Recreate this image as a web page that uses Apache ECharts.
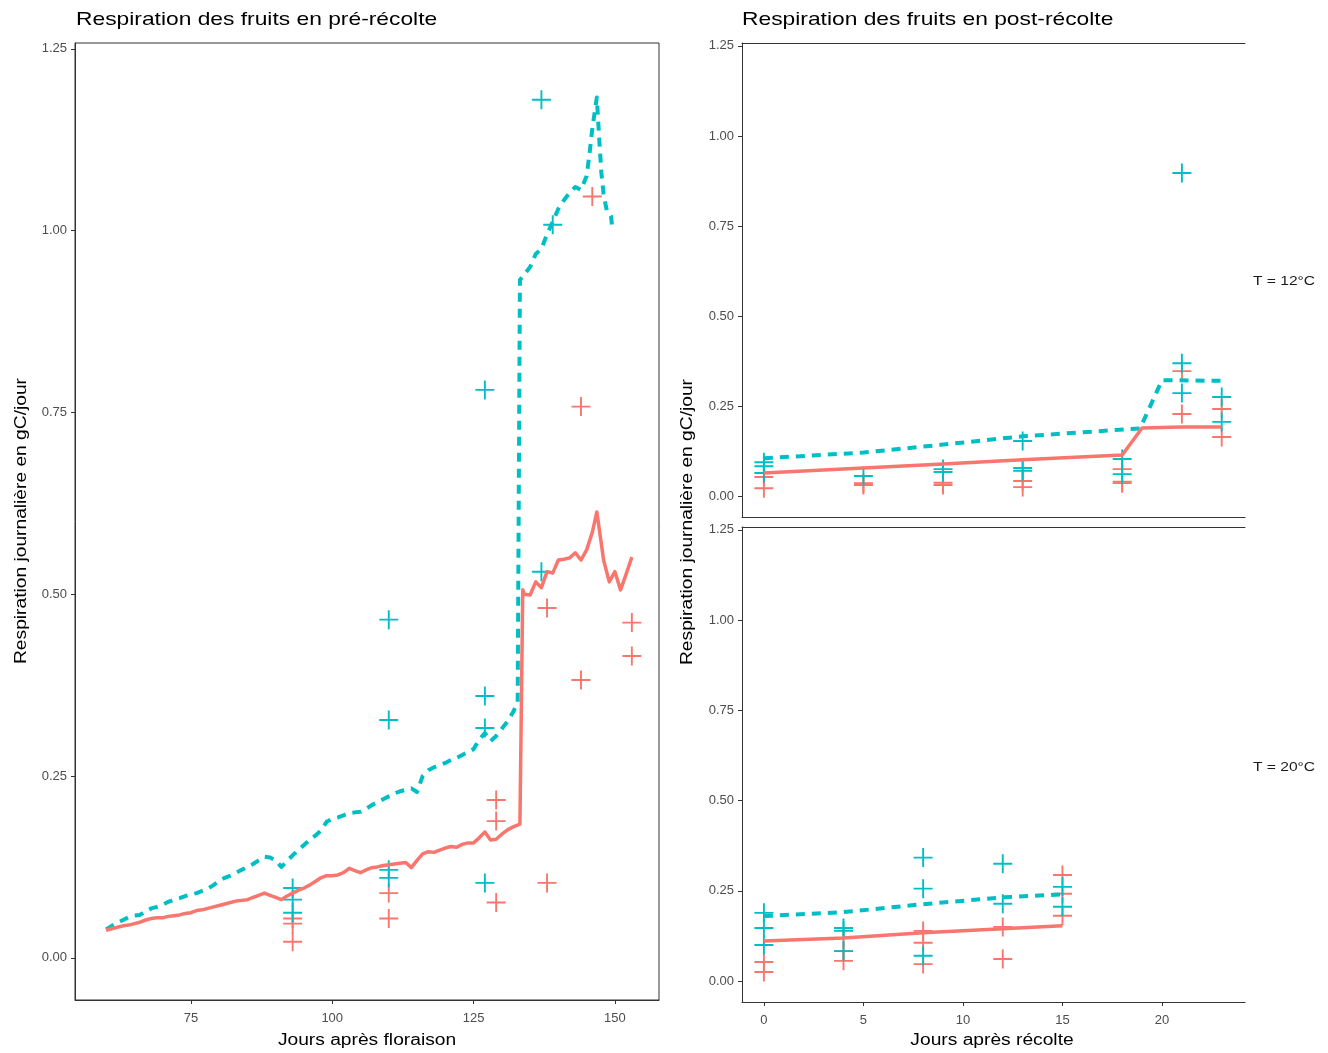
<!DOCTYPE html>
<html>
<head>
<meta charset="utf-8">
<script src="https://cdn.jsdelivr.net/npm/echarts@6/dist/echarts.min.js"></script>
<style>
html,body{margin:0;padding:0;background:#fff;}
#c{width:1328px;height:1053px;}
</style>
</head>
<body>
<div id="c"></div>
<script>
// ---------- DATA ----------
const titlePre = "Respiration des fruits en pré-récolte";
const titlePost = "Respiration des fruits en post-récolte";
const yName = "Respiration journalière en gC/jour";
const xNamePre = "Jours après floraison";
const xNamePost = "Jours après récolte";
const stripLabels = ["T = 12°C", "T = 20°C"];

const yTicks = [0, 0.25, 0.5, 0.75, 1.0, 1.25];
const xTicksPre = [75, 100, 125, 150];
const xTicksPost = [0, 5, 10, 15, 20];

// Pre-harvest simulated lines [day, gC/day]
const preLineRed = [[60,0.038],[61,0.040],[62,0.042],[63,0.044],[64,0.045],[65,0.047],[66,0.049],[67,0.052],[68,0.054],[69,0.055],[70,0.055],[71,0.057],[72,0.058],[73,0.059],[74,0.061],[75,0.062],[76,0.065],[77,0.066],[78,0.068],[79,0.070],[80,0.072],[81,0.074],[82,0.076],[83,0.078],[84,0.079],[85,0.080],[86,0.083],[87,0.086],[88,0.089],[89,0.086],[90,0.083],[91,0.080],[92,0.085],[93,0.089],[94,0.093],[95,0.096],[96,0.100],[97,0.105],[98,0.110],[99,0.113],[100,0.113],[101,0.114],[102,0.117],[103,0.123],[104,0.120],[105,0.117],[106,0.121],[107,0.124],[108,0.125],[109,0.127],[110,0.128],[111,0.129],[112,0.130],[113,0.131],[114,0.124],[115,0.134],[116,0.143],[117,0.146],[118,0.145],[119,0.148],[120,0.151],[121,0.153],[122,0.152],[123,0.156],[124,0.158],[125,0.158],[126,0.165],[127,0.173],[128,0.162],[129,0.163],[130,0.170],[131,0.176],[132,0.180],[133.2,0.184],[133.7,0.506],[134,0.500],[135,0.499],[136,0.517],[137,0.509],[138,0.531],[139,0.529],[140,0.547],[141,0.548],[142,0.550],[143,0.557],[144,0.547],[145,0.561],[146,0.585],[146.8,0.613],[147.5,0.575],[148,0.547],[149,0.517],[150,0.531],[151,0.506],[152,0.528],[153,0.551]];
const preLineCyan = [[60,0.039],[61,0.044],[62,0.048],[63,0.052],[64,0.056],[65,0.058],[66,0.059],[67,0.064],[68,0.068],[69,0.070],[70,0.073],[71,0.077],[72,0.080],[73,0.082],[74,0.085],[75,0.087],[76,0.089],[77,0.092],[78,0.095],[79,0.100],[80,0.106],[81,0.110],[82,0.113],[83,0.117],[84,0.121],[85,0.125],[86,0.129],[87,0.134],[88,0.139],[89,0.138],[90,0.134],[91,0.125],[92,0.133],[93,0.141],[94,0.148],[95,0.155],[96,0.162],[97,0.168],[98,0.175],[99,0.187],[100,0.191],[101,0.193],[102,0.196],[103,0.199],[104,0.200],[105,0.201],[106,0.205],[107,0.210],[108,0.214],[109,0.218],[110,0.222],[111,0.226],[112,0.229],[113,0.231],[114,0.233],[115,0.228],[116,0.250],[117,0.258],[118,0.262],[119,0.265],[120,0.268],[121,0.272],[122,0.275],[123,0.279],[124,0.283],[125,0.287],[126,0.300],[127,0.309],[128,0.298],[129,0.305],[130,0.315],[131,0.325],[132,0.338],[132.8,0.351],[133.2,0.932],[134,0.940],[135,0.950],[136,0.968],[137,0.975],[138,0.995],[139,1.012],[140,1.030],[141,1.042],[142,1.052],[143,1.060],[144,1.056],[145,1.075],[145.5,1.105],[146,1.140],[146.8,1.183],[147.2,1.130],[147.6,1.080],[148,1.050],[148.6,1.026],[149.3,1.020],[149.6,1.000]];

// Pre-harvest measurements
const prePtsRed = [[93,0.054],[93,0.047],[93,0.022],[110,0.089],[110,0.054],[129,0.217],[129,0.188],[129,0.076],[138,0.481],[138,0.103],[144,0.758],[144,0.382],[146,1.047],[153,0.461],[153,0.415]];
const prePtsCyan = [[93,0.096],[93,0.080],[93,0.062],[110,0.465],[110,0.327],[110,0.121],[110,0.110],[127,0.781],[127,0.360],[127,0.316],[127,0.103],[137,1.180],[137,0.531],[139,1.008]];

// Post-harvest, T = 12°C
const post12LineRed = [[0,0.064],[5,0.078],[9,0.089],[13,0.101],[18,0.114],[19,0.189],[21,0.192],[23,0.192]];
const post12LineCyan = [[0,0.105],[5,0.121],[9,0.143],[13,0.166],[18.9,0.188],[20,0.322],[23,0.320]];
const post12PtsRed = [[0,0.053],[0,0.022],[5,0.036],[5,0.031],[9,0.037],[9,0.031],[13,0.042],[13,0.025],[18,0.075],[18,0.040],[18,0.036],[21,0.347],[21,0.228],[23,0.242],[23,0.164]];
const post12PtsCyan = [[0,0.094],[0,0.083],[0,0.064],[5,0.056],[9,0.075],[9,0.067],[13,0.153],[13,0.078],[13,0.070],[18,0.103],[18,0.061],[21,0.897],[21,0.369],[21,0.286],[23,0.275],[23,0.206]];

// Post-harvest, T = 20°C
const post20LineRed = [[0,0.111],[4,0.119],[8,0.134],[12,0.145],[15,0.153]];
const post20LineCyan = [[0,0.180],[4,0.191],[8,0.213],[12,0.232],[15,0.240]];
const post20PtsRed = [[0,0.053],[0,0.025],[4,0.119],[4,0.083],[4,0.056],[8,0.139],[8,0.106],[8,0.047],[12,0.150],[12,0.061],[15,0.294],[15,0.242],[15,0.181]];
const post20PtsCyan = [[0,0.189],[0,0.147],[0,0.100],[4,0.147],[4,0.139],[4,0.083],[8,0.342],[8,0.256],[8,0.070],[12,0.325],[12,0.214],[15,0.261],[15,0.206]];

// ---------- STYLE ----------
const RED = '#F8766D', CYAN = '#00BFC4';
const FONT = 'Liberation Sans, Arial, Helvetica, sans-serif';
const AX = '#333333', LAB = '#4D4D4D';
const PLUS = 'path://M9,0 h2 v20 h-2 z M0,9 h20 v2 h-20 z';
const SX = 1.2; // horizontal stretch of the reference text

const chart = echarts.init(document.getElementById('c'), null, {renderer: 'canvas'});

function yAxisCfg(grid) {
  return {
    type: 'value', gridIndex: grid, min: -0.058, max: 1.258,
    splitLine: {show: false},
    axisLine: {show: true, onZero: false, lineStyle: {color: AX, width: 1}},
    axisTick: {show: true, length: 4, lineStyle: {color: AX}, customValues: yTicks},
    axisLabel: {show: true, color: LAB, fontSize: 13, fontFamily: FONT, margin: 8,
      customValues: yTicks, formatter: v => v.toFixed(2)}
  };
}
function xAxisCfg(grid, min, max, ticks, showLabels) {
  return {
    type: 'value', gridIndex: grid, min: min, max: max, position: 'bottom',
    splitLine: {show: false},
    axisLine: {show: true, onZero: false, lineStyle: {color: AX, width: 1}},
    axisTick: {show: showLabels, length: 4, lineStyle: {color: AX}, customValues: ticks},
    axisLabel: {show: showLabels, color: LAB, fontSize: 13, fontFamily: FONT, margin: 12, customValues: ticks}
  };
}
function topLine(grid, min, max) {
  return {
    type: 'value', gridIndex: grid, min: min, max: max, position: 'top',
    splitLine: {show: false},
    axisLine: {show: true, onZero: false, lineStyle: {color: AX, width: 1}},
    axisTick: {show: false}, axisLabel: {show: false}
  };
}
function pts(data, color, xi, yi) {
  return {type: 'scatter', data: data, xAxisIndex: xi, yAxisIndex: yi,
    symbol: PLUS, symbolSize: 19, symbolKeepAspect: true,
    itemStyle: {color: color, opacity: 1}, silent: true, z: 2};
}
function line(data, color, dashed, xi, yi) {
  return {type: 'line', data: data, xAxisIndex: xi, yAxisIndex: yi,
    showSymbol: false, symbol: 'none', silent: true, z: 3,
    lineStyle: {color: color, width: dashed ? 4 : 3.5, type: dashed ? [9, 7] : 'solid', cap: 'butt', join: 'round'}};
}
function txt(text, x, y, size, opts) {
  opts = opts || {};
  return {type: 'text', x: x, y: y, rotation: opts.rot || 0, scaleX: SX, scaleY: 1,
    style: {text: text, fill: opts.color || '#000', font: size + 'px ' + FONT,
      textAlign: opts.align || 'center', textVerticalAlign: 'middle'}};
}

const option = {
  animation: false,
  backgroundColor: '#fff',
  textStyle: {fontFamily: FONT},
  grid: [
    {left: 75, top: 43, width: 584, height: 957, show: true, borderColor: AX, borderWidth: 1, backgroundColor: 'transparent'},
    {left: 742, top: 43, width: 503, height: 474, show: false},
    {left: 742, top: 527, width: 503, height: 475, show: false}
  ],
  xAxis: [
    xAxisCfg(0, 54.5, 157.8, xTicksPre, true),
    xAxisCfg(1, -1.1, 24.17, xTicksPost, false),
    xAxisCfg(2, -1.1, 24.17, xTicksPost, true),
    topLine(1, -1.1, 24.17),
    topLine(2, -1.1, 24.17)
  ],
  yAxis: [
    yAxisCfg(0),
    yAxisCfg(1),
    yAxisCfg(2)
  ],
  graphic: [
    txt(titlePre, 76, 20, 19, {align: 'left'}),
    txt(titlePost, 742, 20, 19, {align: 'left'}),
    txt(yName, 22, 521, 16, {rot: Math.PI / 2}),
    txt(yName, 688, 522, 16, {rot: Math.PI / 2}),
    txt(xNamePre, 367, 1041, 16),
    txt(xNamePost, 992, 1041, 16),
    txt(stripLabels[0], 1284, 281, 13, {color: '#1A1A1A'}),
    txt(stripLabels[1], 1284, 767, 13, {color: '#1A1A1A'})
  ],
  series: [
    pts(prePtsRed, RED, 0, 0),
    pts(prePtsCyan, CYAN, 0, 0),
    line(preLineCyan, CYAN, true, 0, 0),
    line(preLineRed, RED, false, 0, 0),

    pts(post12PtsRed, RED, 1, 1),
    pts(post12PtsCyan, CYAN, 1, 1),
    line(post12LineCyan, CYAN, true, 1, 1),
    line(post12LineRed, RED, false, 1, 1),

    pts(post20PtsRed, RED, 2, 2),
    pts(post20PtsCyan, CYAN, 2, 2),
    line(post20LineCyan, CYAN, true, 2, 2),
    line(post20LineRed, RED, false, 2, 2)
  ]
};
chart.setOption(option);
</script>
</body>
</html>
